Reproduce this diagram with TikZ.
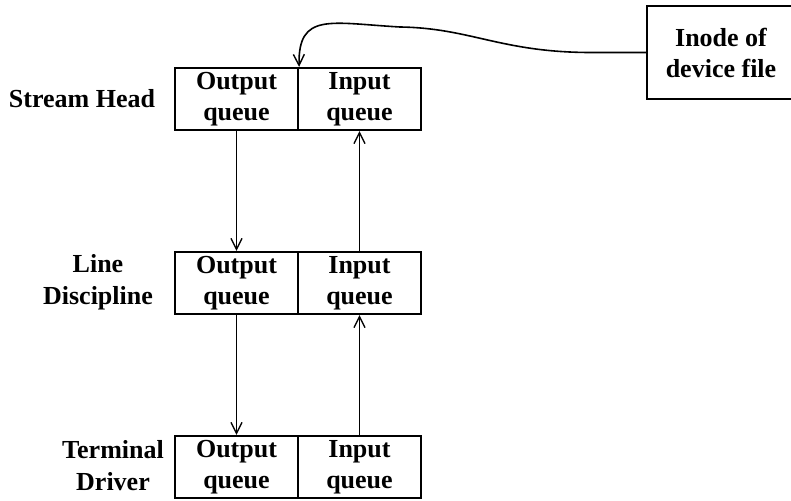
\documentclass[tikz,border=0pt]{standalone}
\usepackage{fontspec}
\setmainfont{Liberation Serif}
\usetikzlibrary{arrows.meta}
\tikzset{
  queuecell/.style={draw,line width=2.2pt,minimum width=123pt,minimum height=62pt,
    inner sep=0pt,align=center,font=\bfseries\fontsize{26}{31}\selectfont},
  layername/.style={align=center,font=\bfseries\fontsize{26}{32}\selectfont},
  flow/.style={line width=1.1pt,-{Straight Barb[length=11pt,width=11pt,line width=1.4pt]}}
}

\begin{document}
\begin{tikzpicture}[x=1pt,y=-1pt]
\useasboundingbox (0,0) rectangle (791,500);
% stream head
\node[queuecell] (sh-out) at (236.5,99) {Output\\queue};
\node[queuecell] (sh-in) at (359.5,99) {Input\\queue};
\node[layername] (sh-name) at (82,99) {Stream Head};
% line discipline
\node[queuecell] (ld-out) at (236.5,283) {Output\\queue};
\node[queuecell] (ld-in) at (359.5,283) {Input\\queue};
\node[layername] (ld-name) at (98,282) {Line\\Discipline};
% terminal driver
\node[queuecell] (td-out) at (236.5,467) {Output\\queue};
\node[queuecell] (td-in) at (359.5,467) {Input\\queue};
\node[layername] (td-name) at (113,466) {Terminal\\Driver};
% inode
\node[queuecell,minimum width=148pt,minimum height=93pt] (inode) at (721,52.5) {Inode of\\device file};

\draw[flow] (sh-out.south) -- (ld-out.north);
\draw[flow] (ld-in.north) -- (sh-in.south);
\draw[flow] (ld-out.south) -- (td-out.north);
\draw[flow] (td-in.north) -- (ld-in.south);
\draw[flow,line width=1.6pt] (inode.west) -- ++(-57,0)
  .. controls (500,52) and (470,28) .. (400,27)
  .. controls (330,23) and (298,12) .. (sh-out.north east);
\end{tikzpicture}
\end{document}
